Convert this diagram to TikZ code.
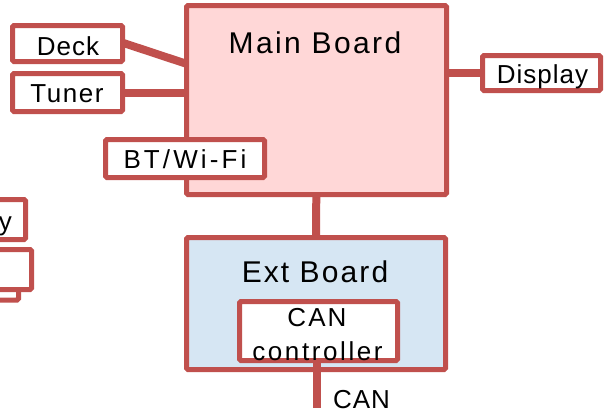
\documentclass[tikz,border=0pt]{standalone}
\usepackage{fontspec}
\setmainfont{Liberation Sans}
\usetikzlibrary{calc}
\definecolor{bord}{HTML}{C0504D}
\definecolor{mainfill}{HTML}{FFD7D7}
\definecolor{extfill}{HTML}{D6E6F3}
\pgfdeclarelayer{bg}
\pgfsetlayers{bg,main}
\tikzset{
  box/.style={draw=bord, line width=5pt, rounded corners=1.5pt, fill=white, inner sep=0pt, rectangle},
  conn/.style={draw=bord, line width=8pt},
  txt/.style={anchor=base, inner sep=0pt, font=\fontsize{26}{28}\selectfont},
  bigtxt/.style={anchor=base, inner sep=0pt, font=\fontsize{30}{32}\selectfont},
}
\newcommand{\ls}[1]{\addfontfeature{LetterSpace=#1}}
\begin{document}
\begin{tikzpicture}[x=1pt,y=-1pt]
\useasboundingbox (0,0) rectangle (605,416);
% left cut-off boxes
\node[box, minimum width=38.5pt, minimum height=25pt] (boxC) at (-0.75,287.5) {};
\node[box, minimum width=51.5pt, minimum height=40pt] (boxB) at (5.75,269.5) {};
\node[box, minimum width=45.5pt, minimum height=40pt] (boxA) at (2.75,219.5) {};
\node[txt, anchor=base east] (ytxt) at (12,230) {y};
% main board
\node[box, fill=mainfill, minimum width=260pt, minimum height=189pt] (Main) at (316.5,100) {};
\node[bigtxt] (maintxt) at (315,53) {\ls{8}Main Board};
% ext board
\node[box, fill=extfill, minimum width=259pt, minimum height=132pt] (Ext) at (316,303.5) {};
\node[bigtxt] (exttxt) at (315,282) {\ls{7}Ext Board};
% CAN controller
\node[box, minimum width=158pt, minimum height=59pt] (Ctrl) at (318.5,331) {};
\node[txt] (ctrltxtA) at (317,326) {\ls{8}CAN};
\node[txt] (ctrltxtB) at (317.5,360) {\ls{10}controller};
% small boxes
\node[box, minimum width=110pt, minimum height=36pt] (Deck) at (67.5,43.5) {};
\node[txt] (decktxt) at (68,55) {\ls{4}Deck};
\node[box, minimum width=110pt, minimum height=38pt] (Tuner) at (67.5,92.5) {};
\node[txt] (tunertxt) at (67,102) {\ls{6}Tuner};
\node[box, minimum width=159pt, minimum height=38pt] (BT) at (185,158.5) {};
\node[txt] (bttxt) at (185,168) {\ls{12}BT/Wi-Fi};
\node[box, minimum width=118pt, minimum height=35pt] (Display) at (541.5,73) {};
\node[txt] (disptxt) at (542.5,83) {\ls{4}Display};
% CAN label
\coordinate (canend) at (317,408);
\node[txt] (cantxt) at (361.5,408) {\ls{4}CAN};
% connectors
\begin{pgfonlayer}{bg}
\draw[conn, shorten <=-8pt, shorten >=-8pt] (Deck.east) -- (Main.west |- 0,63);
\draw[conn] (Tuner.center) -- (Main.center |- Tuner.center);
\draw[conn] (Main.center |- Display.center) -- (Display.center);
\draw[conn] (Main.center) -- (Ext.center);
\end{pgfonlayer}
\draw[conn] (Ctrl.south -| canend) -- (canend);
\end{tikzpicture}
\end{document}
